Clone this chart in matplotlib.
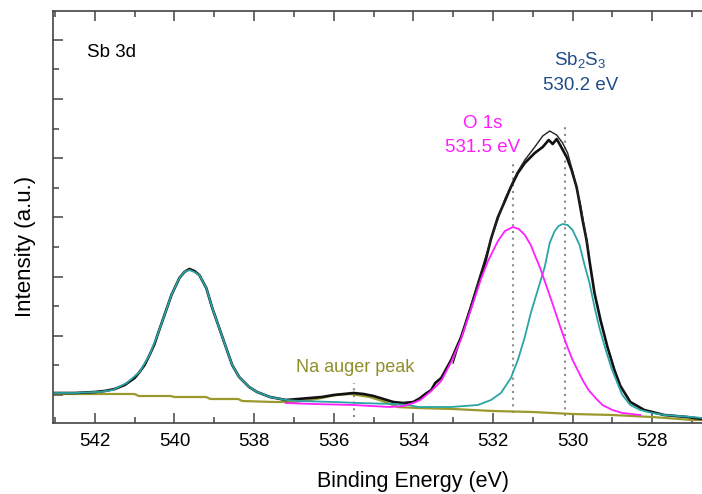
import numpy as np
import matplotlib
matplotlib.use("Agg")
import matplotlib.pyplot as plt

plt.rcParams['font.family'] = ['Liberation Sans', 'DejaVu Sans']
plt.rcParams['mathtext.fontset'] = 'custom'
plt.rcParams['mathtext.rm'] = 'Liberation Sans'
plt.rcParams['mathtext.it'] = 'Liberation Sans'

# measured spectrum (binding energy eV, intensity a.u.)
data_be = [543.0, 542.5, 542.0, 541.75, 541.5, 541.25, 541.0, 540.875, 540.75,
           540.625, 540.5, 540.425, 540.25, 540.075, 539.875, 539.75, 539.625,
           539.5, 539.375, 539.2, 539.05, 538.875, 538.7, 538.55, 538.375,
           538.125, 537.925, 537.6, 537.2, 536.9, 536.6, 536.3, 536.0, 535.75,
           535.5, 535.25, 535.0, 534.75, 534.5, 534.25, 534.0, 533.825, 533.7,
           533.55, 533.45, 533.3, 533.05, 532.8, 532.55, 532.3, 532.2, 532.05,
           531.875, 531.7, 531.55, 531.375, 531.2, 530.95, 530.75, 530.6,
           530.5, 530.4, 530.3, 530.15, 530.025, 529.9, 529.825, 529.75,
           529.65, 529.575, 529.45, 529.3, 529.125, 528.95, 528.8, 528.55,
           528.2, 527.7, 527.125, 526.75]
data_int = [30, 30, 31, 32, 34, 38, 45, 51, 58,
            68, 79, 88, 108, 128, 145, 151, 154,
            152, 148, 135, 115, 95, 75, 58, 46,
            36, 31, 26, 23, 24, 25, 26, 28, 29,
            30, 29, 27, 24, 21, 20, 21, 25, 29,
            33, 40, 45, 63, 86, 116, 148, 160, 184,
            206, 222, 236, 250, 260, 270, 276, 283,
            279, 284, 277, 266, 253, 236, 220, 203,
            183, 162, 130, 103, 76, 53, 37, 21,
            13, 8, 6, 4]

# envelope of the fit around the main peak
env_be = [533.0, 532.5, 532.0, 531.7, 531.4, 531.2, 530.95, 530.75, 530.575,
          530.4, 530.25, 530.125, 530.0, 529.8, 529.6]
env_int = [60, 125, 190, 224, 250, 263, 276, 287, 292,
           288, 280, 270, 252, 218, 172]

# Sb 3d fit component (cyan)
sb_be = [543.0, 542.5, 542.0, 541.875, 541.55, 541.2, 540.875, 540.625,
         540.425, 540.25, 540.075, 539.875, 539.75, 539.625, 539.5, 539.375,
         539.2, 539.05, 538.875, 538.7, 538.55, 538.375, 538.125, 537.925,
         537.6, 537.2, 536.875, 536.0, 535.375, 534.5, 534.125, 533.875,
         533.05, 532.375, 532.05, 531.8, 531.55, 531.375, 531.2, 531.05,
         530.875, 530.7, 530.575, 530.45, 530.35, 530.25, 530.125, 530.0,
         529.825, 529.7, 529.575, 529.45, 529.325, 529.175, 529.025, 528.875,
         528.75, 528.55, 528.3, 528.0, 527.7, 527.0, 526.75]
sb_int = [30, 30, 31, 31, 33, 40, 51, 68,
          88, 108, 128, 145, 151, 153, 151, 148,
          135, 115, 95, 75, 58, 46, 36, 31,
          26, 23, 22, 21, 20, 19, 18, 16,
          16, 18, 23, 30, 45, 63, 86, 110,
          133, 156, 180, 192, 197, 199, 198, 193,
          178, 158, 140, 116, 95, 74, 55, 40,
          28, 18, 13, 10, 8, 6, 5]

# O 1s fit component (magenta)
o_be = [537.2, 536.5, 535.5, 534.6, 534.25, 534.0, 533.825, 533.55, 533.3,
        533.05, 532.8, 532.55, 532.3, 532.125, 531.875, 531.7, 531.5, 531.35,
        531.2, 531.05, 530.95, 530.825, 530.7, 530.45, 530.3, 530.15, 530.0,
        529.75, 529.6, 529.4, 529.25, 529.0, 528.75, 528.3]
o_int = [20, 19, 18, 16, 17, 20, 23, 32, 42,
         61, 84, 114, 144, 162, 182, 192, 196, 194,
         188, 178, 168, 156, 142, 113, 95, 78, 63,
         43, 33, 24, 18, 13, 10, 8]

# background + Na auger component (olive)
bg_be = [543.0, 541.0, 540.9, 540.1, 540.0, 539.2, 539.1, 538.4, 538.3, 537.5,
         537.0, 536.6, 536.3, 535.95, 535.575, 535.1, 534.7, 534.4, 533.9,
         533.0, 532.0, 531.0, 530.0, 529.0, 528.0, 527.0, 526.75]
bg_int = [29, 29, 27, 27, 26, 26, 24, 24, 22, 21,
          21, 23, 25, 28, 29, 26, 21, 16, 15,
          14, 12, 11, 9, 8, 6, 3, 3]

peak_pos = [531.5, 530.2, 535.5]
peak_top = [263, 297, 40]
peak_bot = [10, 7, 6]

fig = plt.figure(figsize=(7.02, 4.94), dpi=100)
ax = fig.add_axes([53 / 702, 71 / 494, 649 / 702, 412 / 494])

for x, top, bot in zip(peak_pos, peak_top, peak_bot):
    ax.plot([x, x], [bot, top], color='#8a8a8a', lw=1.5, ls=(0, (1, 2.2)))

ax.plot(bg_be, bg_int, color='#9a9a2c', lw=1.6)
ax.plot(data_be, data_int, color='#111111', lw=1.9)
ax.plot(env_be, env_int, color='#222222', lw=1.0)
ax.plot(sb_be, sb_int, color='#2aa4a4', lw=1.3)
ax.plot(o_be, o_int, color='#ff1eff', lw=1.3)

ax.text(542.2, 371, 'Sb 3d', fontsize=13.5, ha='left', va='center')
ax.text(529.8, 363, 'Sb$_2$S$_3$', fontsize=13.5, color='#1f4c8a',
        ha='center', va='center')
ax.text(529.8, 338, '530.2 eV', fontsize=13.5, color='#1f4c8a',
        ha='center', va='center')
ax.text(532.25, 300, 'O 1s', fontsize=13.5, color='#ff1eff',
        ha='center', va='center')
ax.text(532.25, 276, '531.5 eV', fontsize=13.5, color='#ff1eff',
        ha='center', va='center')
ax.text(535.45, 56, 'Na auger peak', fontsize=13, color='#8f8f2a',
        ha='center', va='center')

ax.set_xlim(543.05, 526.75)
ax.set_ylim(0, 412)
ax.set_xticks([542, 540, 538, 536, 534, 532, 530, 528])
ax.set_xticks(np.arange(527, 544, 1), minor=True)
ax.set_yticks(28 + 59.2 * np.arange(7))
ax.set_yticks(57.6 + 59.2 * np.arange(6), minor=True)
ax.set_yticklabels([])

ax.tick_params(which='both', direction='in', top=True, right=False,
               color='#444444', width=1.1, labelsize=13.5, pad=7)
ax.tick_params(which='major', length=7)
ax.tick_params(which='minor', length=4)
ax.spines['right'].set_visible(False)
for s in ['left', 'top', 'bottom']:
    ax.spines[s].set_color('#444444')
    ax.spines[s].set_linewidth(1.2)

ax.set_xlabel('Binding Energy (eV)', fontsize=15.5)
ax.xaxis.set_label_coords((413 - 53) / 649, (423 - 481) / 412)
ax.xaxis.label.set_va('center')
ax.set_ylabel('Intensity (a.u.)', fontsize=16)
ax.yaxis.set_label_coords((25 - 53) / 649, (423 - 246) / 412)
ax.yaxis.label.set_va('center')

fig.savefig('out.png', dpi=100)
